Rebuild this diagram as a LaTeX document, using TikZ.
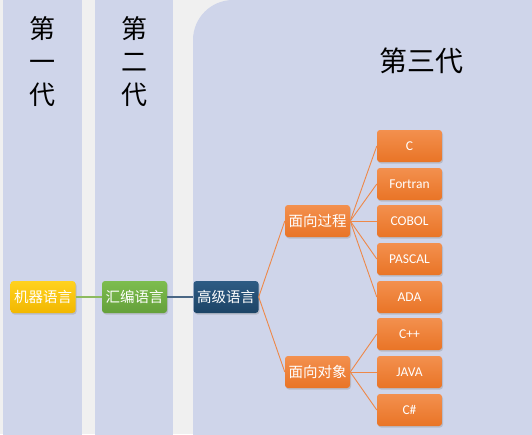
\documentclass[tikz,border=0pt]{standalone}
\usepackage{fontspec}
\setmainfont{Carlito}
\newfontfamily\cjk{Noto Sans CJK SC}
\usetikzlibrary{shadows}
\definecolor{colbg}{HTML}{CFD5EA}
\definecolor{pagebg}{HTML}{F0F0F0}
\definecolor{ortop}{HTML}{F3904E}
\definecolor{orbot}{HTML}{E97426}
\definecolor{orline}{HTML}{EE8848}
\definecolor{yetop}{HTML}{FFD21F}
\definecolor{yebot}{HTML}{F2B700}
\definecolor{grtop}{HTML}{7DBD4E}
\definecolor{grbot}{HTML}{64A03A}
\definecolor{nvtop}{HTML}{2E5B84}
\definecolor{nvbot}{HTML}{1C4466}
\definecolor{grline}{HTML}{8DBB5F}
\definecolor{nvline}{HTML}{4A6785}
\begin{document}
\begin{tikzpicture}[x=1pt,y=-1pt, every node/.style={font=\cjk\fontsize{14.5}{14.5}\selectfont},
  lang/.style={rounded corners=3pt,minimum width=65pt,minimum height=32pt,inner sep=0pt,text=white,align=center,
    drop shadow={shadow xshift=1pt,shadow yshift=-1.5pt,opacity=0.3}},
  orbox/.style={lang,top color=ortop,bottom color=orbot},
  latin/.style={orbox,font=\fontsize{13.5}{13.5}\selectfont},
  gen/.style={font=\cjk\fontsize{26}{33}\selectfont,align=center,inner sep=0pt},
  edgeor/.style={draw=orline,line width=0.9pt}]
\clip (0,0) rectangle (532,434);
% background and the three columns
\fill[pagebg] (0,0) rectangle (532,434);
\fill[colbg] (3,-5) rectangle (82,440);
\fill[colbg] (95,-5) rectangle (173,440);
\fill[colbg,rounded corners=40pt] (193,0) rectangle (600,500);
\node[gen] (gen1) at (42.5,62) {第\\一\\代};
\node[gen] (gen2) at (134,62) {第\\二\\代};
\node[gen,font=\cjk\fontsize{28}{28}\selectfont] (gen3) at (421.5,61) {第三代};
% language boxes
\node[lang,top color=yetop,bottom color=yebot] (jiqi) at (43,297) {机器语言};
\node[lang,top color=grtop,bottom color=grbot] (huibian) at (134.5,297) {汇编语言};
\node[lang,top color=nvtop,bottom color=nvbot] (gaoji) at (226,297) {高级语言};
\node[orbox] (proc) at (317.5,221) {面向过程};
\node[orbox] (obj) at (317.5,372) {面向对象};
\foreach \y/\n/\t in {146/c/C,184/fortran/Fortran,221/cobol/COBOL,259/pascal/PASCAL,297/ada/ADA}
  \node[latin] (\n) at (409.5,\y) {\t};
\foreach \y/\n/\t in {334/cpp/C++,372/java/JAVA,410/cs/C\#}
  \node[latin] (\n) at (409.5,\y) {\t};
% connectors
\draw[draw=grline,line width=1.2pt] (jiqi) -- (huibian);
\draw[draw=nvline,line width=1.2pt] (huibian) -- (gaoji);
\draw[edgeor] (gaoji.east) -- (proc.west);
\draw[edgeor] (gaoji.east) -- (obj.west);
\foreach \n in {c,fortran,cobol,pascal,ada}
  \draw[edgeor] (proc.east) -- (\n.west);
\foreach \n in {cpp,java,cs}
  \draw[edgeor] (obj.east) -- (\n.west);
\end{tikzpicture}
\end{document}
